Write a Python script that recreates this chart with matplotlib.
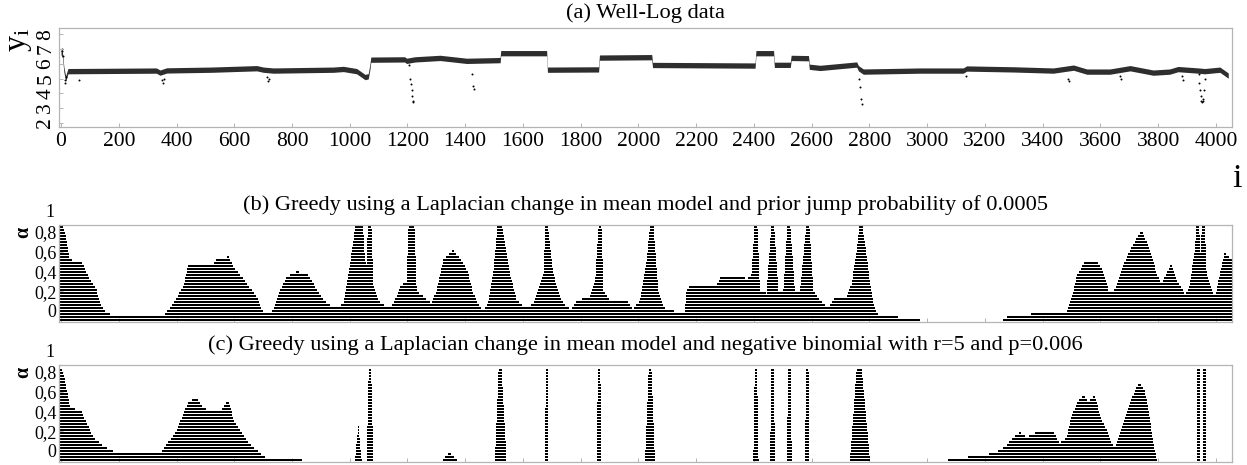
import numpy as np
import matplotlib
matplotlib.use("Agg")
import matplotlib.pyplot as plt

plt.rcParams["font.family"] = ["Liberation Serif", "DejaVu Serif"]
plt.rcParams["mathtext.fontset"] = "custom"
plt.rcParams["mathtext.rm"] = "Liberation Serif"
plt.rcParams["mathtext.it"] = "Liberation Serif:italic"

DPI = 90

# (a) well-log: centre line of the dense band of points
log_x = [0, 5, 10, 16, 24, 330, 343, 366, 520, 678, 701, 735, 943, 978, 1024, 1053, 1064, 1070,
         1073, 1190, 1197, 1226, 1313, 1405, 1521, 1523, 1682, 1685, 1862, 1865, 2046, 2049,
         2404, 2407, 2468, 2471, 2526, 2529, 2589, 2592, 2629, 2756, 2762, 2779, 2975, 3125,
         3137, 3300, 3437, 3507, 3553, 3633, 3703, 3783, 3840, 3869, 3933, 3962, 4014, 4043]
log_y = [6.8, 6.6, 5.6, 5.0, 5.5, 5.54, 5.4, 5.55, 5.6, 5.7, 5.6, 5.54, 5.6, 5.65, 5.5, 5.1, 5.15, 5.8,
         6.28, 6.3, 6.2, 6.3, 6.4, 6.2, 6.25, 6.72, 6.72, 5.6, 5.62, 6.42, 6.45, 5.92,
         5.88, 6.72, 6.72, 5.93, 5.93, 6.4, 6.38, 5.8, 5.72, 5.95, 5.7, 5.47, 5.54, 5.54,
         5.68, 5.62, 5.54, 5.74, 5.47, 5.47, 5.7, 5.4, 5.47, 5.64, 5.55, 5.5, 5.6, 5.2]

# isolated points falling out of the band
out_x = [2, 4, 7, 13, 15, 18, 62, 350, 354, 357, 712, 716, 719, 1204, 1208, 1211, 1214, 1216, 1218,
         1220, 1425, 1428, 1431, 2764, 2767, 2770, 2773, 3133, 3488, 3491, 3668, 3672, 3882, 3886,
         3940, 3943, 3946, 3948, 3950, 3952, 3954, 3956, 3959, 3962]
out_y = [7.0, 6.9, 6.5, 4.7, 4.9, 5.1, 4.9, 4.9, 4.7, 5.0, 5.1, 4.8, 5.0, 5.9, 5.0, 4.6, 4.2, 3.8, 3.5,
         3.4, 5.3, 4.5, 4.3, 5.0, 4.4, 3.6, 3.3, 5.2, 5.0, 4.8, 5.2, 5.0, 5.2, 4.9,
         5.3, 4.7, 4.2, 3.8, 3.5, 3.4, 3.45, 3.6, 4.2, 5.0]

# (b) alpha profile, Laplacian change in mean, prior jump probability 0.0005
b_x = [-10, 5, 14, 20, 31, 72, 89, 124, 135, 158, 193, 228, 331, 354, 366, 389, 424, 441, 528, 539,
       580, 597, 637, 684, 701, 712, 735, 759, 782, 816, 851, 880, 909, 943, 955, 978, 1001, 1020,
       1046, 1052, 1058, 1063, 1075, 1082, 1105, 1128, 1145, 1157, 1174, 1197, 1204, 1224, 1232,
       1267, 1284, 1301, 1324, 1359, 1394, 1411, 1428, 1451, 1463, 1480, 1497, 1512, 1528, 1555,
       1578, 1607, 1619, 1636, 1671, 1678, 1687, 1705, 1728, 1751, 1769, 1786, 1832, 1850, 1862,
       1872, 1879, 1902, 1960, 1982, 2006, 2029, 2040, 2052, 2069, 2086, 2103, 2144, 2161, 2167,
       2178, 2271, 2283, 2364, 2375, 2392, 2402, 2412, 2421, 2444, 2460, 2470, 2485, 2502, 2516,
       2526, 2542, 2560, 2581, 2592, 2606, 2629, 2658, 2681, 2722, 2739, 2756, 2765, 2776, 2791,
       2802, 2814, 2825, 2843, 2952, 2975, 2976, 3263, 3264, 3281, 3310, 3356, 3368, 3437, 3484,
       3489, 3507, 3518, 3541, 3553, 3587, 3605, 3616, 3628, 3639, 3657, 3668, 3703, 3743, 3772,
       3795, 3812, 3829, 3847, 3870, 3887, 3893, 3910, 3927, 3933, 3942, 3947, 3952, 3962, 3968,
       3986, 3998, 4014, 4031, 4045, 4060]
b_a = [0.86, 0.86, 0.80, 0.70, 0.52, 0.50, 0.38, 0.21, 0.08, -0.02, -0.05, -0.06, -0.06, -0.05, -0.01,
       0.08, 0.25, 0.48, 0.48, 0.52, 0.55, 0.45, 0.31, 0.11, -0.02, -0.03, 0.01, 0.21, 0.35, 0.40,
       0.38, 0.25, 0.11, 0.04, 0.03, 0.08, 0.48, 0.86, 0.86, 0.55, 0.45, 0.86, 0.86, 0.25, 0.08,
       0.05, 0.05, 0.11, 0.25, 0.30, 0.86, 0.86, 0.21, 0.11, 0.08, 0.21, 0.52, 0.62, 0.48, 0.38,
       0.18, 0.04, 0.01, 0.08, 0.38, 0.86, 0.86, 0.38, 0.11, 0.04, 0.03, 0.08, 0.38, 0.86, 0.86,
       0.38, 0.14, 0.04, 0.02, 0.11, 0.14, 0.30, 0.86, 0.86, 0.21, 0.11, 0.11, 0.02, 0.11, 0.52,
       0.86, 0.86, 0.21, 0.04, 0.01, -0.01, -0.01, 0.21, 0.25, 0.25, 0.35, 0.35, 0.31, 0.38, 0.86,
       0.86, 0.21, 0.18, 0.86, 0.86, 0.21, 0.21, 0.86, 0.86, 0.21, 0.21, 0.86, 0.86, 0.21, 0.11,
       0.03, 0.14, 0.14, 0.28, 0.62, 0.86, 0.86, 0.55, 0.28, 0.08, -0.02, -0.05, -0.07, -0.08,
       -0.15, -0.15, -0.08, -0.05, -0.04, -0.04, -0.01, -0.01, 0.0, 0.04, 0.21, 0.35, 0.48, 0.50,
       0.50, 0.44, 0.35, 0.21, 0.19, 0.25, 0.38, 0.62, 0.82, 0.62, 0.38, 0.28, 0.38, 0.48, 0.28,
       0.21, 0.14, 0.28, 0.62, 0.86, 0.86, 0.60, 0.86, 0.86, 0.38,
       0.21, 0.14, 0.38, 0.59, 0.55, 0.50]

# (c) alpha profile, Laplacian change in mean, negative binomial r=5, p=0.006
c_x = [-10, 2, 14, 20, 26, 31, 72, 77, 95, 112, 135, 152, 181, 204, 228, 343, 354, 377, 401, 424,
       441, 470, 493, 551, 574, 585, 597, 620, 643, 666, 689, 712, 834, 840, 1016, 1018, 1030, 1041,
       1043, 1057, 1059, 1066, 1074, 1082, 1084, 1322, 1324, 1345, 1371, 1373, 1501, 1503, 1516,
       1526, 1543, 1545, 1675, 1677, 1679, 1686, 1688, 1690, 1853, 1855, 1860, 1868, 1872, 1874,
       2021, 2023, 2036, 2045, 2057, 2059, 2396, 2398, 2403, 2411, 2416, 2418, 2454, 2456, 2461,
       2469, 2473, 2475, 2512, 2514, 2519, 2527, 2531, 2533, 2575, 2577, 2581, 2589, 2592, 2594,
       2731, 2733, 2756, 2773, 2802, 2804, 3071, 3073, 3143, 3183, 3229, 3252, 3275, 3298, 3322,
       3345, 3380, 3437, 3460, 3483, 3500, 3518, 3541, 3558, 3581, 3599, 3622, 3639, 3650, 3668,
       3691, 3720, 3737, 3755, 3772, 3783, 3795, 3797, 3933, 3935, 3936, 3944, 3945, 3947,
       3954, 3956, 3957, 3966, 3967, 3969, 4060]
c_a = [0.84, 0.84, 0.72, 0.62, 0.52, 0.43, 0.42, 0.35, 0.25, 0.14, 0.08, 0.04, 0.0, 0.0, -0.03, -0.03,
       0.02, 0.11, 0.21, 0.38, 0.50, 0.54, 0.43, 0.40, 0.50, 0.48, 0.31, 0.21, 0.11, 0.04, -0.02,
       -0.07, -0.08, -0.15, -0.15, -0.09, 0.26, -0.09, -0.15, -0.15, -0.09, 0.84, 0.84, -0.09, -0.15,
       -0.15, -0.09, -0.01, -0.09, -0.15, -0.15, -0.09, 0.84, 0.84, -0.09, -0.15, -0.15, -0.09,
       0.84, 0.84, -0.09, -0.15, -0.15, -0.09, 0.84, 0.84, -0.09, -0.15,
       -0.15, -0.09, 0.84, 0.84, -0.09, -0.15, -0.15, -0.09, 0.84, 0.84, -0.09, -0.15, -0.15, -0.09,
       0.84, 0.84, -0.09, -0.15, -0.15, -0.09, 0.84, 0.84, -0.09, -0.15, -0.15, -0.09, 0.84, 0.84,
       -0.09, -0.15, -0.15, -0.09, 0.84, 0.84, -0.09, -0.15, -0.15, -0.09, -0.06, -0.05, -0.02,
       0.01, 0.06, 0.14, 0.19, 0.14, 0.19, 0.19, 0.08, 0.14, 0.35, 0.48, 0.57, 0.50, 0.57, 0.35,
       0.21, 0.08, 0.04, 0.18, 0.38, 0.62, 0.69, 0.60, 0.31, 0.10, -0.09, -0.15, -0.15, -0.09, 0.84,
       0.84, -0.09, -0.15, -0.15, -0.09, 0.84, 0.84, -0.09, -0.15, -0.15]

x_ticks = list(range(0, 4001, 200))
log_ticks = [2, 3, 4, 5, 6, 7, 8]
alpha_ticks = [0, 0.2, 0.4, 0.6, 0.8]
alpha_labels = ["0", "0,2", "0,4", "0,6", "0,8"]

titles = ["(a) Well-Log data",
          "(b) Greedy using a Laplacian change in mean model and prior jump probability of 0.0005",
          "(c) Greedy using a Laplacian change in mean model and negative binomial with r=5 and p=0.006"]

W, H = 1247, 465
fig = plt.figure(figsize=(W / DPI, H / DPI), dpi=DPI)


def pt(px):
    return px * 72 / DPI


def box(l, t, r, b):
    return [l / W, 1 - b / H, (r - l) / W, (b - t) / H]


def runs(xs, ys, level):
    # x-intervals where the piecewise-linear profile lies at or above level
    xs = np.asarray(xs, float)
    ys = np.asarray(ys, float)
    above = ys >= level
    segs = []
    start = xs[0] if above[0] else None
    for i in range(1, len(xs)):
        if above[i] != above[i - 1]:
            t = (level - ys[i - 1]) / (ys[i] - ys[i - 1])
            xc = xs[i - 1] + t * (xs[i] - xs[i - 1])
            if above[i]:
                start = xc
            else:
                segs.append((start, xc))
    if above[-1]:
        segs.append((start, xs[-1]))
    return segs


frame = "#b4b4b4"
xlim = (-7, 4056)
# horizontal line rows used to draw the alpha stacks (one every ~3 px)
rows = np.arange(-0.091, 0.875, 0.0304)

ax1 = fig.add_axes(box(59, 28, 1232, 127))
ax2 = fig.add_axes(box(59, 224.5, 1232, 322))
ax3 = fig.add_axes(box(59, 364.5, 1232, 462))

# panel (a)
lo = np.array(log_y) - 0.18
hi = np.array(log_y) + 0.18
ax1.fill_between(log_x, lo, hi, color="#2e2e2e", lw=0)
ax1.scatter(out_x, out_y, s=2.5, c="black", lw=0)
ax1.set_xlim(xlim)
ax1.set_ylim(1.71, 8.43)
ax1.set_xticks(x_ticks)
ax1.set_yticks(log_ticks)
ax1.set_yticklabels([str(v) for v in log_ticks], rotation=90, va="center")
ax1.tick_params(axis="x", labelsize=pt(21.5), pad=4)
ax1.tick_params(axis="y", labelsize=pt(21.5), pad=3)
ax1.set_xlabel("i", fontsize=pt(34), loc="right")
ax1.xaxis.set_label_coords(1.008, -0.37)
ax1.set_ylabel(r"$\mathrm{y}_\mathrm{i}$", fontsize=pt(32), loc="top")
ax1.yaxis.set_label_coords(-0.021, 1.0)

# panels (b) and (c): stacks of horizontal lines under the alpha profile
for ax, xs, al in [(ax2, b_x, b_a), (ax3, c_x, c_a)]:
    for lev in rows:
        segs = runs(xs, al, lev)
        if segs:
            s0 = [s[0] for s in segs]
            s1 = [s[1] for s in segs]
            ax.hlines([lev] * len(segs), s0, s1, colors="black", lw=pt(2.0),
                      capstyle="butt")
    ax.set_xlim(xlim)
    ax.set_ylim(-0.112, 0.877)
    ax.set_xticks(x_ticks)
    ax.set_xticklabels([])
    ax.set_yticks(alpha_ticks)
    ax.set_yticklabels(alpha_labels)
    ax.tick_params(axis="y", labelsize=pt(18), pad=2)
    ax.text(-0.0035, 1.0, "1", transform=ax.get_yaxis_transform(), ha="right",
            va="center", fontsize=pt(18), clip_on=False)
    ax.text(-0.0305, 0.92, "α", transform=ax.transAxes, rotation=90, ha="center",
            va="center", fontsize=pt(20), fontweight="bold")

for ax, t, yoff in [(ax1, titles[0], 1.152), (ax2, titles[1], 1.2), (ax3, titles[2], 1.2)]:
    ax.text(0.5, yoff, t, transform=ax.transAxes, ha="center", va="center", fontsize=pt(22.4))
    for s in ax.spines.values():
        s.set_color(frame)
        s.set_linewidth(1.0)
    ax.tick_params(direction="in", length=3, color=frame)

fig.savefig("out.png", dpi=DPI)
